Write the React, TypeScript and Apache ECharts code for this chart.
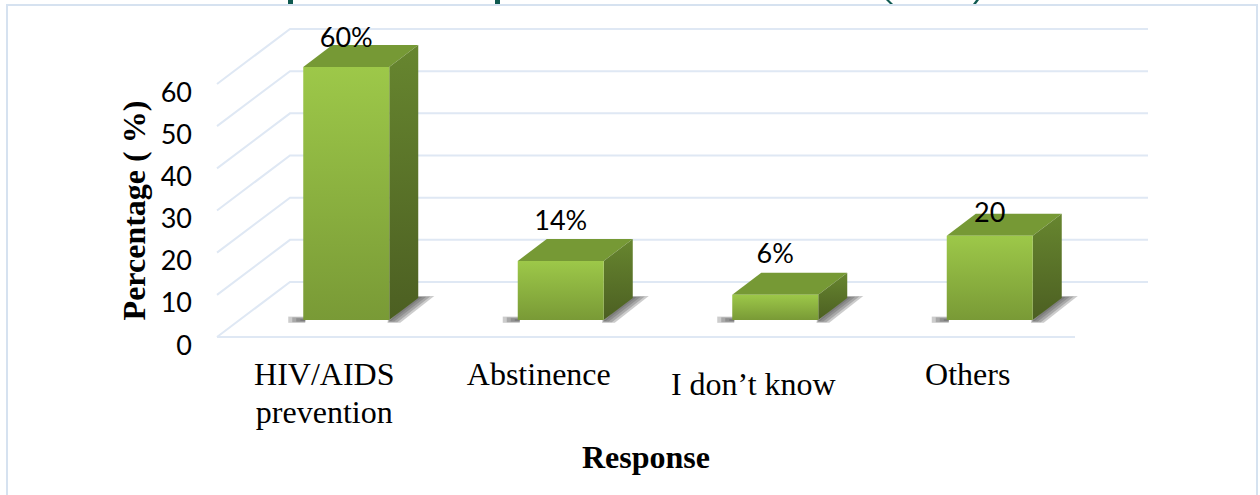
import React, { useEffect, useRef } from "react";
import * as echarts from "echarts";

const categories = ["HIV/AIDS\nprevention", "Abstinence", "I don’t know", "Others"];
const percentages = [60, 14, 6, 20];
const valueLabels = ["60%", "14%", "6%", "20"];
const labelLift = [31, 41, 42, 24];
const yTicks = [0, 10, 20, 30, 40, 50, 60];

const WALL_DX = 73;
const WALL_DY = -55;
const BAR_W = 86;
const BAR_DX = 29;
const BAR_DY = -22;
const FACE_SHIFT_X = 22;
const FACE_SHIFT_Y = -17;
const SHADOW_LAYERS = [0, 1, 2, 3];
const SERIF = '"Liberation Serif", "Times New Roman", serif';
const SANS = 'Lato, "Open Sans", sans-serif';
const GRID_COLOR = "#DFE8F4";
const HEADING_COLOR = "#0F5A50";
const SHADOW_FILL = "rgba(85,85,85,0.3)";

const vGrad = (a: string, b: string) =>
  new echarts.graphic.LinearGradient(0, 0, 0, 1, [
    { offset: 0, color: a },
    { offset: 1, color: b },
  ]);

// Back wall and floor lines, one per y tick
function renderWall(params: any, api: any) {
  const v = api.value(0);
  const rect = params.coordSys;
  const y = api.coord([0, v])[1];
  const x0 = rect.x;
  const x1 = rect.x + rect.width;
  const children: any[] = [
    {
      type: "polyline",
      shape: {
        points: [
          [x0, y],
          [x0 + WALL_DX, y + WALL_DY],
          [x1 + WALL_DX, y + WALL_DY],
        ],
      },
      style: { fill: "none", stroke: GRID_COLOR, lineWidth: 2 },
    },
  ];
  if (v === 0) {
    children.push({
      type: "line",
      shape: { x1: x0, y1: y, x2: x1, y2: y },
      style: { stroke: GRID_COLOR, lineWidth: 2 },
    });
  }
  return { type: "group", children };
}

// Extruded bar: floor shadow, top, side and front faces
function renderBar(_params: any, api: any) {
  const idx = api.value(0);
  const [cx, top0] = api.coord([idx, api.value(1)]);
  const [, base0] = api.coord([idx, 0]);
  const x0 = cx + FACE_SHIFT_X - BAR_W / 2;
  const x1 = x0 + BAR_W;
  const top = top0 + FACE_SHIFT_Y;
  const base = base0 + FACE_SHIFT_Y;
  const quad = (pts: number[][], fill: any) => ({
    type: "polygon",
    shape: { points: pts },
    style: { fill },
  });
  // The soft floor shadow is built from nested translucent layers
  const leftShadow = SHADOW_LAYERS.map((i) =>
    quad(
      [
        [x0 - 3 - i * 4, base - 1 - i * 0.8],
        [x0 + 2, base - 1 - i * 0.8],
        [x0 + 2, base + 1 + i * 0.6],
        [x0 - 3 - i * 4, base + 1 + i * 0.6],
      ],
      SHADOW_FILL
    )
  );
  const rightShadow = SHADOW_LAYERS.map((i) =>
    quad(
      [
        [x1 - 2, base + 1 + i * 0.6],
        [x1 + BAR_DX - 1, base + BAR_DY - 1 - i * 0.3],
        [x1 + BAR_DX + 4 + i * 4, base + BAR_DY - 1 - i * 0.3],
        [x1 + 2 + i * 3, base + 1 + i * 0.6],
      ],
      SHADOW_FILL
    )
  );
  return {
    type: "group",
    children: [
      ...leftShadow,
      ...rightShadow,
      quad(
        [
          [x0, top],
          [x0 + BAR_DX, top + BAR_DY],
          [x1 + BAR_DX, top + BAR_DY],
          [x1, top],
        ],
        "#769935"
      ),
      quad(
        [
          [x1, top],
          [x1 + BAR_DX, top + BAR_DY],
          [x1 + BAR_DX, base + BAR_DY],
          [x1, base],
        ],
        vGrad("#67862F", "#4C5F22")
      ),
      {
        type: "rect",
        shape: { x: x0, y: top, width: BAR_W, height: base - top },
        style: { fill: vGrad("#9DC849", "#799A36") },
      },
      {
        type: "text",
        style: {
          x: x0 + BAR_W / 2,
          y: top - labelLift[idx],
          text: valueLabels[idx],
          fill: "#000",
          font: `27px ${SANS}`,
          align: "center",
          verticalAlign: "middle",
        },
        z2: 10,
      },
    ],
  };
}

export default function App() {
  const ref = useRef<HTMLDivElement>(null);
  useEffect(() => {
    const chart = echarts.init(ref.current!, undefined, { renderer: "svg" });
    chart.setOption({
      animation: false,
      backgroundColor: "#fff",
      grid: { left: 217, right: 185, top: 84, bottom: 158 },
      xAxis: {
        type: "category",
        data: categories.map((c) =>
          c.startsWith("I ") ? { value: c, textStyle: { padding: [10, 0, 0, 0] } } : c
        ),
        axisLine: { show: false },
        axisTick: { show: false },
        axisLabel: {
          margin: 18,
          interval: 0,
          color: "#000",
          fontFamily: SERIF,
          fontSize: 32,
          lineHeight: 38,
        },
        name: "Response",
        nameLocation: "middle",
        nameGap: 104,
        nameTextStyle: { color: "#000", fontFamily: SERIF, fontSize: 32, fontWeight: "bold" },
      },
      yAxis: {
        type: "value",
        min: 0,
        max: 60,
        interval: 10,
        axisLine: { show: false },
        axisTick: { show: false },
        splitLine: { show: false },
        axisLabel: {
          margin: 25,
          color: "#000",
          fontFamily: SANS,
          fontSize: 27,
          verticalAlign: "top",
          lineHeight: 14,
        },
        name: "Percentage ( %)",
        nameLocation: "middle",
        nameGap: 61,
        nameRotate: 90,
        nameTextStyle: { color: "#000", fontFamily: SERIF, fontSize: 32, fontWeight: "bold" },
      },
      graphic: [
        {
          type: "rect",
          silent: true,
          shape: { x: 7, y: 5, width: 1250, height: 500 },
          style: { fill: "none", stroke: "#D6E2F0", lineWidth: 2 },
        },
        // Lowest strokes of the heading, which runs off the top edge
        { type: "rect", silent: true, shape: { x: 288, y: 0, width: 5, height: 4 }, style: { fill: HEADING_COLOR } },
        { type: "rect", silent: true, shape: { x: 495, y: 0, width: 5, height: 4 }, style: { fill: HEADING_COLOR } },
        {
          type: "polygon",
          silent: true,
          shape: { points: [[886, 0], [889, 0], [893, 4], [890, 4]] },
          style: { fill: HEADING_COLOR },
        },
        {
          type: "polygon",
          silent: true,
          shape: { points: [[979, 0], [976, 0], [973, 4], [976, 4]] },
          style: { fill: HEADING_COLOR },
        },
      ],
      series: [
        {
          type: "custom",
          name: "Gridlines",
          renderItem: renderWall,
          data: yTicks.map((t) => [t]),
          encode: { y: 0 },
          silent: true,
          z: 1,
        },
        {
          type: "custom",
          name: "Percentage",
          renderItem: renderBar,
          data: percentages.map((p, i) => [i, p]),
          encode: { x: 0, y: 1 },
          silent: true,
          z: 2,
        },
      ],
    });
    return () => chart.dispose();
  }, []);
  return (
    <div
      ref={ref}
      style={{ position: "fixed", left: 0, top: 0, width: 1260, height: 495 }}
    />
  );
}
